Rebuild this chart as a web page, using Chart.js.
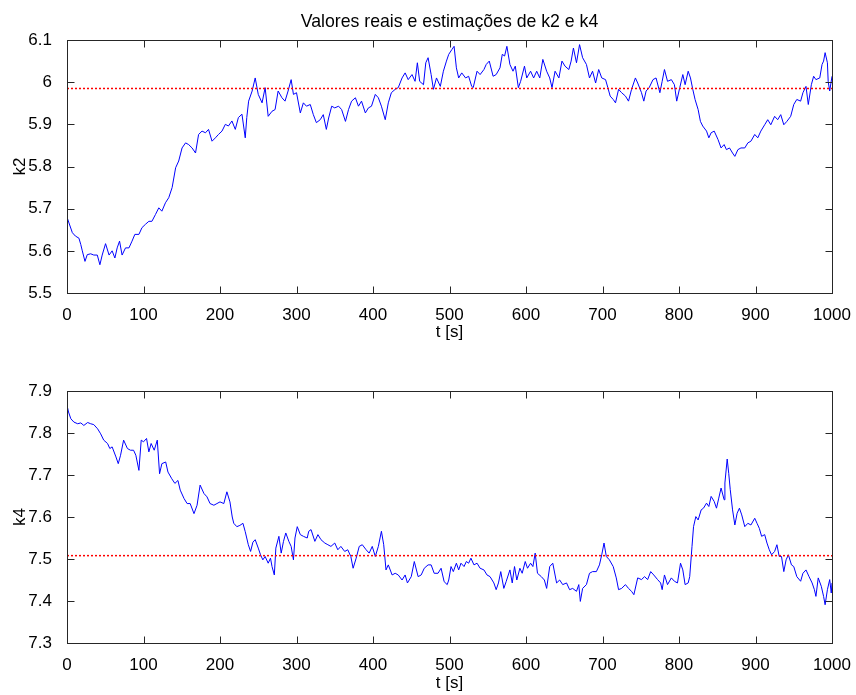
<!DOCTYPE html>
<html>
<head>
<meta charset="utf-8">
<script src="https://cdn.jsdelivr.net/npm/chart.js@4.4.1/dist/chart.umd.min.js"></script>
<style>
  body { margin: 0; background: #fff; }
  #wrap { position: relative; width: 856px; height: 695px; }
  canvas { position: absolute; left: 0; }
</style>
</head>
<body>
<div id="wrap">
  <canvas id="k2chart" width="856" height="347" style="top:0"></canvas>
  <canvas id="k4chart" width="856" height="348" style="top:347px"></canvas>
</div>
<script>
// estimated k2
var t2 = [0, 2.6, 7, 11, 15.6, 18, 20, 23.5, 26.5, 31, 35, 39.6, 43, 46, 50.4, 55, 59, 62.6, 65.6, 68.7,
  72, 76.5, 81, 85, 88.7, 94, 98, 102.6, 107, 111, 115.6, 120, 124, 128.7, 133, 137.4, 142, 146, 150.4, 155,
  159, 163.5, 168, 172, 176.5, 181, 185, 189.6, 194, 198, 202.6, 207, 211, 215.6, 220, 224, 228.7, 233, 235, 237.4, 242,
  246, 250, 255, 259, 263, 268, 272, 276, 281, 285, 289, 293, 296, 300, 305, 309, 313, 318, 322, 326,
  331, 335, 339, 342, 346, 350, 355, 359, 364, 368, 372, 377, 381, 385, 390, 394, 398, 403, 407, 411,
  416, 420, 424, 429, 433, 438, 442, 446, 451, 455, 458, 461, 466, 469, 472, 476, 479, 483, 488, 492, 496,
  499, 503, 506, 509, 512, 516, 521, 525, 529, 531, 536, 540, 545, 548, 552, 557, 561, 566, 569, 572,
  575, 579, 583, 586, 590, 593, 598, 601, 606, 610, 614, 618, 622, 627, 631, 634, 638, 643, 647, 651,
  656, 659, 662, 666, 670, 674, 679, 683, 687, 691, 695, 699, 704, 707, 710, 714, 717, 721, 725, 730, 734, 738, 743,
  746, 751, 754, 757, 761, 766, 770, 775, 778, 781, 785, 790, 794, 797, 801, 805, 808, 812, 815, 818,
  821, 825, 828, 831, 836, 839, 842, 846, 851, 855, 859, 862, 866, 870, 873, 877, 881, 886, 890, 894,
  899, 903, 907, 912, 916, 920, 925, 929, 933, 937, 941, 946, 950, 954, 959, 962, 966, 969, 973, 976,
  979, 984, 987, 989, 991, 994, 995, 997, 1000];
var k2 = [5.68, 5.666, 5.643, 5.635, 5.63, 5.615, 5.60, 5.575, 5.591, 5.593, 5.59, 5.59, 5.567, 5.59, 5.617, 5.59, 5.60, 5.583, 5.607, 5.623,
  5.59, 5.607, 5.607, 5.623, 5.639, 5.639, 5.655, 5.663, 5.67, 5.67, 5.686, 5.702, 5.694, 5.714, 5.726, 5.75, 5.797, 5.813, 5.844, 5.856,
  5.852, 5.844, 5.832, 5.876, 5.884, 5.88, 5.888, 5.86, 5.868, 5.876, 5.884, 5.9, 5.896, 5.908, 5.888, 5.916, 5.924, 5.868, 5.916, 5.955, 5.979,
  6.01, 5.971, 5.951, 5.987, 5.919, 5.931, 5.935, 5.979, 5.963, 5.955, 5.979, 6.006, 5.971, 5.975, 5.927, 5.951, 5.943, 5.947, 5.923, 5.904,
  5.911, 5.923, 5.888, 5.915, 5.943, 5.939, 5.943, 5.935, 5.907, 5.935, 5.955, 5.963, 5.943, 5.955, 5.927, 5.939, 5.943, 5.971, 5.963, 5.943,
  5.911, 5.951, 5.975, 5.983, 5.987, 6.01, 6.022, 6.006, 6.018, 6.002, 6.046, 6.002, 5.994, 6.046, 6.058, 6.018, 5.983, 6.01, 5.99, 6.026, 6.05,
  6.066, 6.077, 6.085, 6.034, 6.01, 6.022, 6.01, 6.014, 5.99, 5.987, 6.026, 6.018, 6.03, 6.042, 6.05, 6.014, 6.018, 6.034, 6.066, 6.062,
  6.085, 6.042, 6.026, 6.038, 5.987, 6.002, 6.038, 6.01, 6.026, 6.01, 6.026, 6.01, 6.054, 6.026, 6.01, 5.987, 6.026, 6.01, 6.05, 6.038,
  6.03, 6.05, 6.081, 6.046, 6.089, 6.058, 6.042, 6.01, 6.026, 5.998, 6.03, 6.01, 6.006, 5.987, 5.967, 5.959, 5.951, 5.983, 5.975, 5.967, 5.955, 5.983, 6.01,
  5.998, 5.975, 5.955, 5.979, 5.987, 6.006, 6.01, 5.975, 6.002, 6.03, 6.002, 6.006, 5.994, 5.955, 5.987, 6.018, 5.994, 6.026, 6.01, 5.983,
  5.959, 5.935, 5.907, 5.896, 5.884, 5.868, 5.88, 5.884, 5.864, 5.844, 5.852, 5.84, 5.844, 5.832, 5.824, 5.84, 5.844, 5.844, 5.856, 5.86,
  5.876, 5.868, 5.884, 5.899, 5.911, 5.899, 5.919, 5.911, 5.923, 5.899, 5.907, 5.919, 5.947, 5.959, 5.955, 5.975, 5.99, 5.947, 5.994, 6.014,
  6.006, 6.01, 6.042, 6.05, 6.07, 6.046, 6.002, 5.979, 6.014];

// estimated k4
var t4 = [0, 2, 5, 9, 14, 18, 22, 27, 31, 35, 40, 44, 48, 53, 56, 59, 64, 67, 70, 74,
  79, 83, 87, 90, 94, 97, 100, 104, 107, 110, 114, 118, 121, 124, 129, 132, 137, 141, 145, 148,
  153, 157, 161, 166, 170, 174, 179, 183, 187, 192, 196, 200, 205, 209, 213, 216,
  218, 222, 226, 230, 233, 237, 240, 243,
  246, 250, 253, 256, 259, 263, 266, 268, 271, 273, 277, 280, 283, 286, 290, 293, 296, 298, 301, 305,
  309, 314, 316, 319, 324, 328, 332, 337, 341, 345, 350, 354, 358, 363, 367, 371, 374, 378, 382, 386,
  391, 395, 399, 403, 407, 411, 414, 417, 420, 425, 429, 433, 438, 442, 445, 450, 454, 459, 463, 467,
  472, 476, 480, 485, 489, 493,
  497, 499, 502, 505, 509, 512, 515, 519, 522, 525, 528, 532, 536, 540, 545, 549, 553, 558, 561, 564,
  567, 571, 574, 579, 582, 585, 588, 592, 595, 599, 602, 606, 609, 612, 615, 620, 624, 627, 631, 635,
  640, 644, 648, 653, 657, 661, 666, 669, 671, 674, 679, 683, 687, 692, 696, 699, 702, 705, 709, 714,
  718, 721, 725, 730, 734, 738, 741,
  746, 751, 755, 759, 763, 767, 772, 776, 778, 781, 785, 790, 794, 798, 802, 805, 808, 812, 814, 817,
  819, 822, 825, 829, 832, 836, 839, 842, 846, 849, 852, 855, 859, 860, 863, 865, 867, 870, 873, 876,
  879, 882, 886, 890, 894, 899, 902, 905, 908, 912, 915, 918, 921, 925, 928, 931, 934, 937, 940, 943,
  947, 950, 954, 959, 962, 966, 970, 974, 977, 979, 982, 986, 989, 991, 994, 997, 999, 1000];
var k4 = [7.866, 7.85, 7.834, 7.826, 7.822, 7.824, 7.818, 7.825, 7.822, 7.82, 7.81, 7.798, 7.783, 7.775, 7.763, 7.767, 7.743, 7.727, 7.747, 7.783,
  7.763, 7.759, 7.759, 7.747, 7.711, 7.783, 7.779, 7.787, 7.755, 7.775, 7.759, 7.783, 7.703, 7.727, 7.731, 7.707, 7.691, 7.68, 7.687, 7.664,
  7.644, 7.632, 7.632, 7.608, 7.628, 7.676, 7.656, 7.648, 7.632, 7.628, 7.632, 7.636, 7.632, 7.66, 7.636, 7.6,
  7.585, 7.577, 7.58, 7.585, 7.565, 7.534, 7.518, 7.54,
  7.546, 7.526, 7.51, 7.498, 7.506, 7.49, 7.502, 7.482, 7.462, 7.526, 7.554, 7.514, 7.542, 7.562, 7.542, 7.53, 7.498, 7.55, 7.577, 7.558,
  7.554, 7.55, 7.566, 7.57, 7.542, 7.558, 7.546, 7.538, 7.534, 7.53, 7.538, 7.522, 7.53, 7.518, 7.522, 7.506, 7.478, 7.502, 7.53, 7.534,
  7.522, 7.514, 7.53, 7.506, 7.53, 7.566, 7.534, 7.474, 7.486, 7.462, 7.466, 7.462, 7.45, 7.462, 7.443, 7.458, 7.494, 7.458, 7.462, 7.478,
  7.486, 7.486, 7.466, 7.466, 7.478, 7.446,
  7.439, 7.45, 7.482, 7.47, 7.49, 7.474, 7.49, 7.482, 7.494, 7.49, 7.502, 7.486, 7.49, 7.478, 7.474, 7.462, 7.458, 7.443, 7.427, 7.443,
  7.47, 7.43, 7.446, 7.474, 7.443, 7.482, 7.45, 7.478, 7.466, 7.494, 7.478, 7.49, 7.482, 7.514, 7.466, 7.458, 7.45, 7.43, 7.482, 7.49,
  7.443, 7.45, 7.439, 7.443, 7.427, 7.43, 7.423, 7.439, 7.399, 7.43, 7.439, 7.466, 7.47, 7.47, 7.486, 7.51, 7.538, 7.506, 7.498, 7.482,
  7.455, 7.427, 7.43, 7.439, 7.43, 7.423, 7.415,
  7.455, 7.451, 7.458, 7.451, 7.47, 7.462, 7.451, 7.443, 7.427, 7.462, 7.439, 7.455, 7.447, 7.443, 7.49, 7.474, 7.439, 7.443, 7.458, 7.53,
  7.577, 7.601, 7.593, 7.617, 7.621, 7.633, 7.625, 7.649, 7.637, 7.621, 7.645, 7.669, 7.641, 7.681, 7.738, 7.704, 7.665, 7.617, 7.581, 7.609,
  7.621, 7.605, 7.577, 7.585, 7.581, 7.597, 7.585, 7.573, 7.554, 7.558, 7.538, 7.522, 7.51, 7.518, 7.534, 7.506, 7.506, 7.47, 7.498, 7.51,
  7.486, 7.482, 7.458, 7.447, 7.466, 7.474, 7.458, 7.443, 7.427, 7.411, 7.455, 7.435, 7.411, 7.391, 7.427, 7.451, 7.419, 7.443];

// real values (dotted red lines)
var k2Real = 5.985;
var k4Real = 7.508;

var xTicks = [0, 1000, 100];
var k2Ticks = [5.5, 6.1, 0.1];
var k4Ticks = [7.3, 7.9, 0.1];

var FONT = '"Liberation Sans", Arial, Helvetica, sans-serif';
Chart.defaults.font.family = FONT;
Chart.defaults.font.size = 17;
Chart.defaults.color = '#000';

// matlab-like box with inward ticks + title
var framePlugin = {
  id: 'frame',
  afterDatasetsDraw: function (chart, args, opts) {
    var ctx = chart.ctx, a = chart.chartArea, x = chart.scales.x, y = chart.scales.y;
    var L = Math.round(a.left) + 0.5, R = Math.round(a.right) + 0.5;
    var T = Math.round(a.top) + 0.5, B = Math.round(a.bottom) + 0.5;
    ctx.save();
    ctx.strokeStyle = '#262626';
    ctx.lineWidth = 1;
    ctx.strokeRect(L, T, R - L, B - T);
    ctx.beginPath();
    x.ticks.forEach(function (tk) {
      var px = Math.round(x.getPixelForValue(tk.value)) + 0.5;
      ctx.moveTo(px, T); ctx.lineTo(px, T + 7);
      ctx.moveTo(px, B); ctx.lineTo(px, B - 7);
    });
    y.ticks.forEach(function (tk) {
      var py = Math.round(y.getPixelForValue(tk.value)) + 0.5;
      ctx.moveTo(L, py); ctx.lineTo(L + 7, py);
      ctx.moveTo(R, py); ctx.lineTo(R - 7, py);
    });
    ctx.stroke();
    if (opts.title) {
      ctx.fillStyle = '#000';
      ctx.font = '17.7px ' + FONT;
      ctx.textAlign = 'center';
      ctx.textBaseline = 'alphabetic';
      ctx.fillText(opts.title, (a.left + a.right) / 2, 27);
    }
    ctx.restore();
  }
};

function points(ts, vs) {
  return ts.map(function (t, i) { return { x: t, y: vs[i] }; });
}

function makeChart(id, ts, vs, real, yt, yLabel, top, xHeight, xTitlePad, title) {
  return new Chart(document.getElementById(id), {
    type: 'line',
    data: {
      datasets: [{
        data: [{ x: xTicks[0], y: real }, { x: xTicks[1], y: real }],
        borderColor: '#ff0000',
        borderWidth: 1.5,
        borderDash: [2, 2],
        pointRadius: 0
      }, {
        data: points(ts, vs),
        borderColor: '#0000ff',
        borderWidth: 1,
        pointRadius: 0,
        tension: 0
      }]
    },
    options: {
      responsive: false,
      animation: false,
      events: [],
      layout: { padding: { top: top, right: 24, left: 0, bottom: 0 } },
      plugins: { legend: { display: false }, tooltip: { enabled: false }, frame: { title: title } },
      scales: {
        x: {
          type: 'linear',
          min: xTicks[0], max: xTicks[1],
          grid: { display: false },
          border: { display: false },
          ticks: {
            stepSize: xTicks[2], padding: 4, maxRotation: 0, autoSkip: false,
            callback: function (v) { return String(v); }
          },
          title: { display: true, text: 't [s]', padding: { top: 0, bottom: xTitlePad } },
          afterFit: function (s) { s.height = xHeight; }
        },
        y: {
          min: yt[0], max: yt[1],
          grid: { display: false },
          border: { display: false },
          ticks: {
            stepSize: yt[2], padding: 7,
            callback: function (v) { return String(Math.round(v * 10) / 10); }
          },
          title: { display: true, text: yLabel, padding: { top: 10, bottom: 0 } },
          afterFit: function (s) { s.width = 67; }
        }
      }
    },
    plugins: [framePlugin]
  });
}

makeChart('k2chart', t2, k2, k2Real, k2Ticks, 'k2', 40, 54, 4, 'Valores reais e estimações de k2 e k4');
makeChart('k4chart', t4, k4, k4Real, k4Ticks, 'k4', 44, 52, 1, null);
</script>
</body>
</html>
